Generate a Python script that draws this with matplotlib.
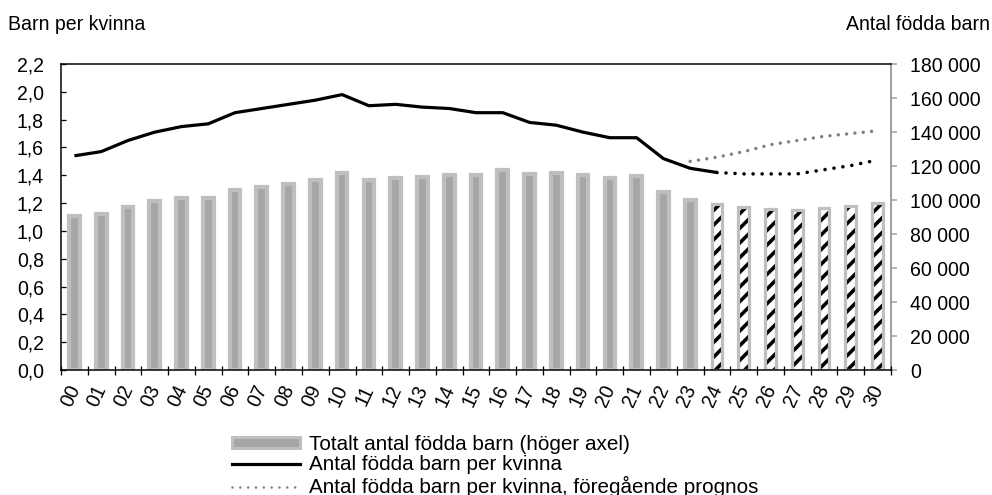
import matplotlib
matplotlib.use('Agg')
import matplotlib.pyplot as plt
import matplotlib.transforms as mtransforms
from matplotlib.patches import Patch
from matplotlib.lines import Line2D
import numpy as np

# ---------------- data ----------------
years = ['00', '01', '02', '03', '04', '05', '06', '07', '08', '09', '10',
         '11', '12', '13', '14', '15', '16', '17', '18', '19', '20', '21',
         '22', '23', '24', '25', '26', '27', '28', '29', '30']
births = [90400, 91500, 95800, 99200, 100900, 101300, 105900, 107400, 109300,
          111800, 115600, 111800, 113200, 113600, 114900, 114900, 117400,
          115400, 115800, 114500, 113100, 114300, 104700, 100100,
          97500, 95600, 95000, 94200, 95400, 96600, 98300]
n_outcome = 24  # bars 00-23 are outcome, 24-30 forecast
fertility = [1.54, 1.57, 1.65, 1.71, 1.75, 1.77, 1.85, 1.88, 1.91, 1.94, 1.98,
             1.90, 1.91, 1.89, 1.88, 1.85, 1.85, 1.78, 1.76, 1.71, 1.67, 1.67,
             1.52, 1.45, 1.42]                     # 00-24
fertility_forecast = [1.42, 1.41, 1.41, 1.41, 1.44, 1.47, 1.51]   # 24-30
previous_forecast = [1.50, 1.53, 1.57, 1.62, 1.65, 1.68, 1.70, 1.72]  # 23-30

left_ticks = [0.0, 0.2, 0.4, 0.6, 0.8, 1.0, 1.2, 1.4, 1.6, 1.8, 2.0, 2.2]
right_ticks = [0, 20000, 40000, 60000, 80000, 100000, 120000, 140000, 160000, 180000]

label_left = 'Barn per kvinna'
label_right = 'Antal födda barn'
legend_labels = ['Totalt antal födda barn (höger axel)',
                 'Antal födda barn per kvinna',
                 'Antal födda barn per kvinna, föregående prognos']

# ---------------- style ----------------
DPI = 88
W, H = 992, 495
def pt(px):
    return px * 72.0 / DPI

plt.rcParams['font.family'] = ['Liberation Sans', 'DejaVu Sans']
plt.rcParams['hatch.linewidth'] = pt(3.6)
FS = pt(19.5)
FS_LEG = pt(20.6)

BAR_FACE = '#a6a6a6'
BAR_EDGE = '#bfbfbf'
GRAY_LINE = '#7f7f7f'
RIGHT_SPINE = '#a0a0a0'

fig = plt.figure(figsize=(W / DPI, H / DPI), dpi=DPI)
L, R, T, B = 61, 891, 64, 370
ax = fig.add_axes([L / W, 1 - B / H, (R - L) / W, (B - T) / H])
ax2 = ax.twinx()

x = np.arange(len(years))
bw = 0.40

# bars on secondary axis
xo = x[:n_outcome]
ax2.bar(xo, births[:n_outcome], width=bw, color=BAR_FACE, edgecolor=BAR_EDGE,
        linewidth=pt(4.2), zorder=2)
xf = x[n_outcome:]
ax2.bar(xf, births[n_outcome:], width=bw, color='white', edgecolor='black',
        linewidth=0, hatch='//', zorder=2)
ax2.bar(xf, births[n_outcome:], width=bw, color='none', edgecolor=BAR_EDGE,
        linewidth=pt(3.2), zorder=3)

ax2.set_ylim(0, 180000)
ax2.set_yticks(right_ticks)
ax2.set_yticklabels([f'{v:,}'.replace(',', ' ') for v in right_ticks])

# lines on the primary axis, drawn above bars
ax.set_zorder(ax2.get_zorder() + 1)
ax.patch.set_visible(False)
ax.plot(x[:len(fertility)], fertility, color='black', lw=pt(3.2),
        solid_capstyle='butt', zorder=5)
ax.plot(x[n_outcome:], fertility_forecast, color='black', lw=pt(3.6),
        linestyle=(0, (0.01, 2.5)), dash_capstyle='round', zorder=5)
ax.plot(x[n_outcome - 1:], previous_forecast, color=GRAY_LINE, lw=pt(3.4),
        linestyle=(0, (0.01, 2.45)), dash_capstyle='round', zorder=4)

ax.set_xlim(-0.5, len(years) - 0.5)
ax.set_ylim(0, 2.2)
ax.set_yticks(left_ticks)
ax.set_yticklabels([f'{v:.1f}'.replace('.', ',') for v in left_ticks])

# x ticks
ax.set_xticks(x)
ax.set_xticklabels(years, rotation=65, ha='center', va='top')
ax.tick_params(axis='x', which='major', length=0, pad=pt(12), labelsize=FS)
ax.set_xticks(np.arange(-0.5, len(years), 1.0), minor=True)
ax.tick_params(axis='x', which='minor', direction='inout', length=pt(9),
               width=pt(1.3), color='black')
offset = mtransforms.ScaledTranslation(-4 / DPI, 0, fig.dpi_scale_trans)
for lab in ax.get_xticklabels():
    lab.set_transform(lab.get_transform() + offset)

ax.tick_params(axis='y', direction='in', length=pt(5), width=pt(1.3),
               color='black', pad=pt(17), labelsize=FS)
ax2.tick_params(axis='y', direction='out', length=pt(6), width=pt(1.5),
                color=RIGHT_SPINE, pad=pt(13), labelsize=FS)

for s in ['top', 'left', 'bottom']:
    ax.spines[s].set_color('black')
    ax.spines[s].set_linewidth(pt(1.5))
ax.spines['right'].set_visible(False)
for s in ['top', 'left', 'bottom']:
    ax2.spines[s].set_visible(False)
ax2.spines['right'].set_color(RIGHT_SPINE)
ax2.spines['right'].set_linewidth(pt(2))

# axis titles
fig.text(8 / W, 1 - 24 / H, label_left, ha='left', va='center', fontsize=FS)
fig.text(990 / W, 1 - 24 / H, label_right, ha='right', va='center', fontsize=FS)

# legend
handles = [
    Patch(facecolor=BAR_FACE, edgecolor=BAR_EDGE, linewidth=pt(3)),
    Line2D([], [], color='black', lw=pt(3.2)),
    Line2D([], [], color=GRAY_LINE, lw=pt(2.6), linestyle=(0, (0.01, 3.0)),
           dash_capstyle='round'),
]
fig.legend(handles, legend_labels, loc='upper left',
           bbox_to_anchor=(232 / W, 1 - 435 / H), frameon=False,
           fontsize=FS_LEG, handlelength=3.3, handleheight=0.42,
           handletextpad=0.45, labelspacing=0.07, borderpad=0,
           borderaxespad=0)

fig.savefig('out.png', dpi=DPI)
